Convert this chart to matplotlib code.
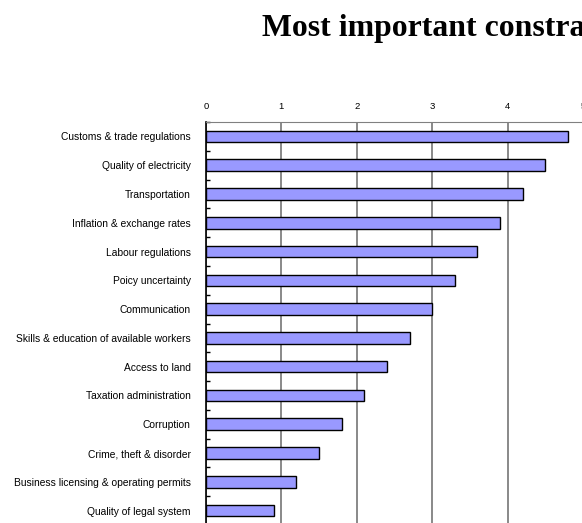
import matplotlib.pyplot as plt
import numpy as np

# --- Data ---
constraints = [
    'Customs & trade regulations',
    'Quality of electricity',
    'Transportation',
    'Inflation & exchange rates',
    'Labour regulations',
    'Poicy uncertainty',
    'Communication',
    'Skills & education of available workers',
    'Access to land',
    'Taxation administration',
    'Corruption',
    'Crime, theft & disorder',
    'Business licensing & operating permits',
    'Quality of legal system',
]
scores = [4.8, 4.5, 4.2, 3.9, 3.6, 3.3, 3.0, 2.7, 2.4, 2.1, 1.8, 1.5, 1.2, 0.9]
x_ticks = [0, 1, 2, 3, 4, 5]

W, H = 582, 523
fig = plt.figure(figsize=(W / 100, H / 100), dpi=100)
fig.text(262 / W, 1 - 36 / H, 'Most important constraints',
         family='Liberation Serif', fontweight='bold', fontsize=22.9,
         ha='left', va='baseline')

# axes runs past the right and bottom edges, as in the cropped original
ax = fig.add_axes([206 / W, -2 / H, 377 / W, 403 / H])
pos = np.arange(len(constraints))
ax.barh(pos, scores, height=0.4, color='#9999ff', edgecolor='black',
        linewidth=1.0, zorder=3)

ax.set_xlim(0, 5)
ax.set_ylim(len(constraints) - 0.5, -0.5)
ax.set_xticks(x_ticks)
ax.xaxis.tick_top()
ax.tick_params(axis='x', length=0, pad=8, labelsize=6.8)
ax.grid(axis='x', color='#808080', linewidth=1.3, zorder=1)

ax.set_yticks(pos)
ax.set_yticklabels(constraints, family='Liberation Sans', fontsize=7.4)
ax.set_yticks(np.arange(len(constraints) + 1) - 0.5, minor=True)
ax.tick_params(axis='y', which='major', length=0, pad=11)
ax.tick_params(axis='y', which='minor', direction='in', length=3, width=1)
for lbl in ax.get_xticklabels():
    lbl.set_family('Liberation Sans')

ax.spines['right'].set_visible(False)
ax.spines['bottom'].set_visible(False)
ax.spines['top'].set_color('#808080')
ax.spines['left'].set_color('black')
ax.spines['left'].set_linewidth(1.2)

fig.savefig('out.png', dpi=100)
